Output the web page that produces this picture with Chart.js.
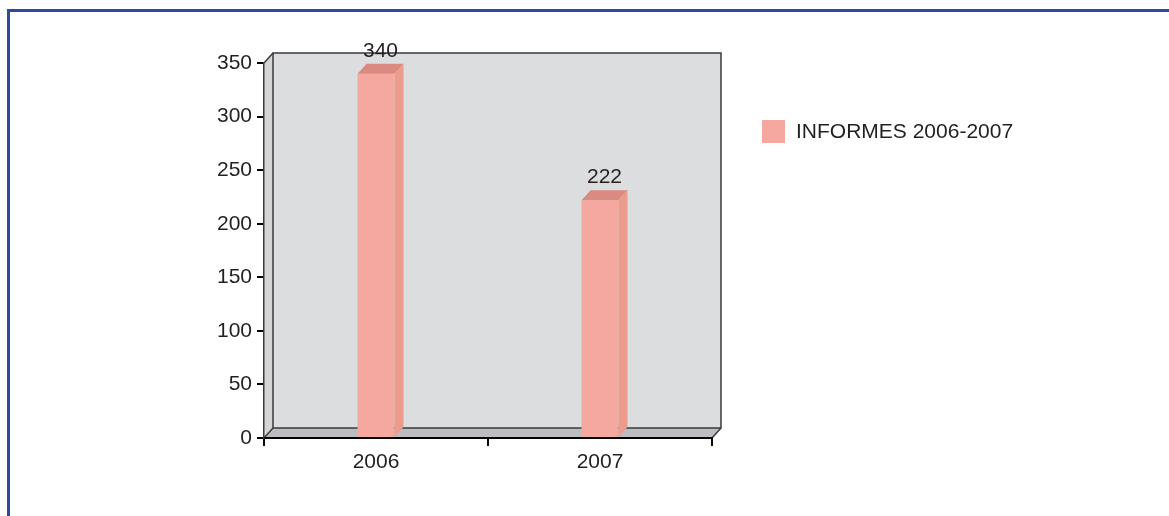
<!DOCTYPE html>
<html>
<head>
<meta charset="utf-8">
<script src="https://cdn.jsdelivr.net/npm/chart.js@4/dist/chart.umd.min.js"></script>
<style>
  html, body { margin: 0; padding: 0; background: #fff; }
  #wrap { position: relative; width: 1169px; height: 516px; overflow: hidden; }
  #frame { position: absolute; left: 7px; top: 9px; width: 1300px; height: 600px;
           border-top: 3px solid #2D4A9C; border-left: 3px solid #2D4A9C; box-sizing: border-box; }
  canvas { position: absolute; left: 0; top: 0; }
  #legend { position: absolute; left: 762px; top: 119px; display: flex; align-items: center;
            font-family: 'Liberation Sans', Arial, sans-serif; font-size: 21px; color: #231F20; }
  #legend .sw { width: 23px; height: 23px; background: #F5A8A0; margin-right: 11px; }
</style>
</head>
<body>
<div id="wrap">
  <div id="frame"></div>
  <canvas id="c" width="1169" height="516"></canvas>
  <div id="legend"><span class="sw"></span><span id="legtext"></span></div>
</div>
<script>
const categories = ['2006', '2007'];
const seriesName = 'INFORMES 2006-2007';
const seriesValues = [340, 222];
const yTicks = [0, 50, 100, 150, 200, 250, 300, 350];

const DX = 9, DY = 10;
const FONT = "'Liberation Sans', Arial, sans-serif";
const TEXT = '#231F20';

document.getElementById('legtext').textContent = seriesName;

const threeD = {
  id: 'threeD',
  beforeDraw(chart) {
    const ctx = chart.ctx, a = chart.chartArea;
    const L = a.left, R = a.right, T = a.top, B = a.bottom;
    ctx.save();
    ctx.fillStyle = '#D4D5D7';
    ctx.beginPath();
    ctx.moveTo(L, T); ctx.lineTo(L + DX, T - DY); ctx.lineTo(L + DX, B - DY); ctx.lineTo(L, B);
    ctx.closePath(); ctx.fill();
    ctx.fillStyle = '#BCBDC0';
    ctx.beginPath();
    ctx.moveTo(L, B); ctx.lineTo(L + DX, B - DY); ctx.lineTo(R + DX, B - DY); ctx.lineTo(R, B);
    ctx.closePath(); ctx.fill();
    ctx.fillStyle = '#DCDDDF';
    ctx.fillRect(L + DX, T - DY, R - L, B - T);
    ctx.strokeStyle = '#3A3A3C';
    ctx.lineWidth = 1.5;
    ctx.strokeRect(L + DX, T - DY, R - L, B - T);
    ctx.beginPath();
    ctx.moveTo(L, T); ctx.lineTo(L + DX, T - DY);
    ctx.moveTo(L, B); ctx.lineTo(L + DX, B - DY);
    ctx.moveTo(R, B); ctx.lineTo(R + DX, B - DY);
    ctx.stroke();
    ctx.restore();
  },
  afterDatasetsDraw(chart) {
    const ctx = chart.ctx;
    const meta = chart.getDatasetMeta(0);
    ctx.save();
    meta.data.forEach((bar, i) => {
      const p = bar.getProps(['x', 'y', 'width', 'base'], true);
      const l = p.x - p.width / 2, r = p.x + p.width / 2;
      ctx.fillStyle = '#EC9C8D';
      ctx.beginPath();
      ctx.moveTo(r, p.y); ctx.lineTo(r + DX, p.y - DY); ctx.lineTo(r + DX, p.base - DY); ctx.lineTo(r, p.base);
      ctx.closePath(); ctx.fill();
      ctx.fillStyle = '#DA8A80';
      ctx.beginPath();
      ctx.moveTo(l, p.y); ctx.lineTo(l + DX, p.y - DY); ctx.lineTo(r + DX, p.y - DY); ctx.lineTo(r, p.y);
      ctx.closePath(); ctx.fill();
      ctx.fillStyle = TEXT;
      ctx.font = '21px ' + FONT;
      ctx.textAlign = 'center';
      ctx.textBaseline = 'alphabetic';
      ctx.fillText(String(seriesValues[i]), p.x + DX / 2, p.y - DY - 7);
    });
    ctx.restore();
  }
};

new Chart(document.getElementById('c'), {
  type: 'bar',
  data: {
    labels: categories,
    datasets: [{
      label: seriesName,
      data: seriesValues,
      backgroundColor: '#F5A8A0',
      borderWidth: 0,
      barPercentage: 1,
      categoryPercentage: 0.165
    }]
  },
  options: {
    responsive: false,
    devicePixelRatio: 1,
    animation: false,
    layout: { padding: { left: 0, top: 63, right: 457, bottom: 0 } },
    plugins: { legend: { display: false }, tooltip: { enabled: false } },
    scales: {
      x: {
        grid: { display: true, drawOnChartArea: false, drawTicks: true, tickLength: 8, color: '#000', lineWidth: 2, offset: true },
        border: { display: true, color: '#000', width: 2 },
        ticks: { font: { family: FONT, size: 21 }, color: TEXT, padding: 4 },
        afterFit(s) { s.height = 78; }
      },
      y: {
        min: 0, max: 350,
        afterBuildTicks(s) { s.ticks = yTicks.map(v => ({ value: v })); },
        grid: { display: true, drawOnChartArea: false, drawTicks: true, tickLength: 7, color: '#000', lineWidth: 2 },
        border: { display: true, color: '#3A3A3C', width: 1.5 },
        ticks: { font: { family: FONT, size: 21 }, color: TEXT, padding: 5 },
        afterFit(s) { s.width = 264; }
      }
    }
  },
  plugins: [threeD]
});
</script>
</body>
</html>
